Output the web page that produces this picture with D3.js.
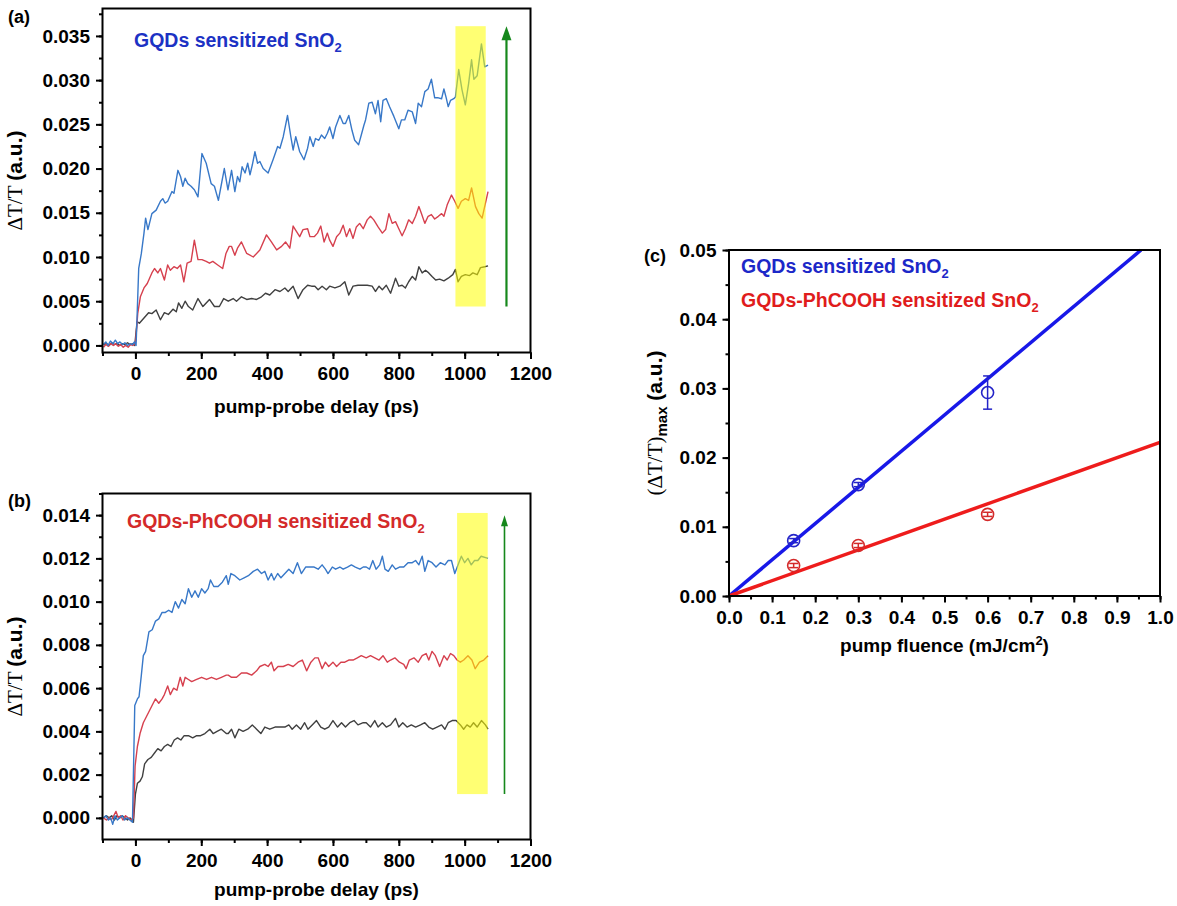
<!DOCTYPE html>
<html lang="en">
<head>
<meta charset="UTF-8">
<title>Transient transmission of SnO2 films</title>
<script src="https://d3js.org/d3.v7.min.js"></script>
<style>
  body, html { margin: 0; padding: 0; background: #fff; }
  svg { display: block; }
  .tick text { font-family: "Liberation Sans", Arial, sans-serif; font-weight: bold; fill: #000; }
  .tick line { stroke: #000; stroke-width: 2; }
  .bold { font-family: "Liberation Sans", Arial, sans-serif; font-weight: bold; }
  .serif { font-family: "Liberation Serif", "Times New Roman", serif; font-weight: normal; }
</style>
</head>
<body>
<svg id="chart"></svg>
<script>
// ---- data: [delay (ps), dT/T] ----
const aBlue = [[-97,0.0001],[-90,0.0004],[-83,0.0000],[-76,0.0005],[-68,0.0002],[-61,0.0006],[-54,0.0002],[-47,0.0004],[-39,0.0001],[-32,0.0003],[-24,0.0000],[-16,0.0002],[-9,0.0001],[-3,0.0004],[2,0.0000],[10,0.0087],[18,0.0104],[26,0.0127],[31,0.0144],[38,0.0131],[50,0.0149],[63,0.0153],[76,0.0163],[83,0.0166],[90,0.0161],[98,0.0163],[111,0.0174],[117,0.0172],[129,0.0198],[137,0.0191],[144,0.0180],[151,0.0189],[159,0.0183],[169,0.0180],[179,0.0176],[190,0.0168],[202,0.0217],[215,0.0206],[230,0.0183],[240,0.0180],[252,0.0164],[260,0.0180],[270,0.0200],[281,0.0176],[292,0.0198],[302,0.0174],[310,0.0191],[317,0.0185],[324,0.0202],[333,0.0195],[341,0.0206],[348,0.0193],[355,0.0204],[363,0.0219],[371,0.0206],[378,0.0208],[388,0.0200],[403,0.0195],[418,0.0210],[432,0.0225],[439,0.0223],[449,0.0236],[462,0.0260],[472,0.0236],[479,0.0221],[487,0.0236],[499,0.0219],[512,0.0210],[523,0.0223],[530,0.0236],[540,0.0225],[547,0.0234],[557,0.0232],[565,0.0238],[575,0.0234],[583,0.0240],[590,0.0247],[600,0.0234],[608,0.0247],[621,0.0260],[631,0.0251],[638,0.0251],[648,0.0260],[658,0.0243],[666,0.0232],[678,0.0227],[686,0.0238],[694,0.0249],[699,0.0255],[709,0.0274],[719,0.0275],[729,0.0262],[737,0.0277],[745,0.0253],[752,0.0277],[762,0.0279],[772,0.0270],[785,0.0259],[800,0.0245],[808,0.0255],[818,0.0255],[828,0.0266],[841,0.0264],[851,0.0251],[859,0.0274],[869,0.0270],[879,0.0287],[889,0.0290],[899,0.0301],[909,0.0280],[920,0.0280],[930,0.0279],[937,0.0290],[944,0.0280],[950,0.0270],[957,0.0277],[967,0.0279],[972,0.0281],[982,0.0312],[992,0.0289],[1002,0.0272],[1012,0.0296],[1021,0.0323],[1028,0.0301],[1038,0.0305],[1051,0.0341],[1061,0.0315],[1071,0.0317]];
const aRed = [[-97,-0.0002],[-90,0.0001],[-82,-0.0001],[-75,0.0002],[-67,0.0000],[-60,0.0002],[-52,-0.0001],[-45,0.0001],[-37,-0.0002],[-30,0.0000],[-22,-0.0002],[-15,0.0001],[-8,0.0000],[-2,0.0002],[1,0.0006],[7,0.0036],[15,0.0055],[26,0.0065],[36,0.0070],[43,0.0076],[50,0.0082],[58,0.0087],[68,0.0082],[76,0.0087],[88,0.0074],[98,0.0091],[106,0.0085],[117,0.0089],[127,0.0087],[137,0.0091],[147,0.0072],[157,0.0093],[169,0.0095],[179,0.0119],[190,0.0097],[202,0.0097],[215,0.0095],[225,0.0093],[235,0.0095],[250,0.0091],[265,0.0087],[275,0.0104],[285,0.0112],[292,0.0112],[302,0.0102],[310,0.0110],[322,0.0117],[338,0.0104],[358,0.0100],[378,0.0108],[398,0.0125],[413,0.0117],[429,0.0108],[444,0.0112],[456,0.0117],[469,0.0110],[479,0.0135],[489,0.0129],[499,0.0123],[509,0.0131],[523,0.0132],[530,0.0123],[543,0.0123],[553,0.0127],[563,0.0135],[573,0.0117],[583,0.0127],[590,0.0119],[600,0.0112],[611,0.0123],[621,0.0127],[631,0.0136],[641,0.0123],[651,0.0132],[661,0.0121],[671,0.0134],[681,0.0138],[692,0.0132],[704,0.0142],[714,0.0146],[724,0.0142],[737,0.0134],[750,0.0127],[760,0.0131],[770,0.0149],[780,0.0138],[790,0.0140],[800,0.0132],[810,0.0124],[820,0.0132],[830,0.0142],[841,0.0138],[851,0.0146],[861,0.0157],[869,0.0149],[879,0.0138],[889,0.0146],[899,0.0148],[909,0.0143],[920,0.0146],[930,0.0149],[937,0.0146],[947,0.0159],[960,0.0170],[970,0.0163],[980,0.0155],[990,0.0163],[1002,0.0166],[1012,0.0164],[1021,0.0178],[1033,0.0157],[1043,0.0149],[1053,0.0144],[1071,0.0174]];
const aBlack = [[-97,0.0001],[-88,0.0002],[-80,0.0000],[-72,0.0003],[-64,0.0001],[-56,0.0002],[-48,0.0000],[-40,0.0002],[-32,0.0001],[-24,0.0003],[-16,0.0001],[-8,0.0002],[-2,0.0000],[5,0.0027],[12,0.0025],[26,0.0031],[40,0.0037],[50,0.0036],[63,0.0040],[76,0.0029],[88,0.0037],[100,0.0035],[114,0.0041],[124,0.0038],[131,0.0048],[141,0.0042],[151,0.0050],[161,0.0044],[174,0.0040],[190,0.0053],[205,0.0044],[225,0.0052],[240,0.0044],[255,0.0044],[268,0.0053],[282,0.0050],[297,0.0053],[307,0.0050],[322,0.0055],[338,0.0052],[353,0.0053],[368,0.0052],[383,0.0055],[395,0.0059],[408,0.0057],[424,0.0063],[439,0.0061],[454,0.0065],[464,0.0061],[479,0.0067],[494,0.0053],[509,0.0063],[523,0.0068],[535,0.0067],[545,0.0067],[555,0.0063],[567,0.0067],[580,0.0063],[590,0.0067],[606,0.0065],[621,0.0067],[636,0.0072],[648,0.0057],[661,0.0067],[676,0.0068],[692,0.0068],[704,0.0068],[719,0.0067],[729,0.0061],[740,0.0067],[750,0.0063],[762,0.0068],[775,0.0059],[785,0.0070],[790,0.0076],[800,0.0067],[810,0.0068],[820,0.0065],[830,0.0072],[841,0.0078],[851,0.0074],[861,0.0089],[871,0.0082],[881,0.0085],[891,0.0082],[901,0.0078],[912,0.0074],[924,0.0075],[937,0.0073],[950,0.0076],[964,0.0080],[972,0.0086],[980,0.0072],[990,0.0078],[1002,0.0080],[1015,0.0079],[1025,0.0082],[1038,0.0080],[1048,0.0088],[1061,0.0089],[1071,0.0090]];

const bBlue = [[-97,0.0000],[-90,0.0001],[-82,-0.0001],[-75,0.0000],[-69,-0.0003],[-62,0.0001],[-55,-0.0001],[-48,0.0000],[-40,0.0001],[-33,-0.0001],[-25,0.0000],[-17,-0.0001],[-9,-0.0002],[-2,0.0052],[6,0.0055],[11,0.0056],[18,0.0066],[24,0.0075],[31,0.0077],[41,0.0086],[51,0.0087],[61,0.0091],[71,0.0092],[81,0.0095],[91,0.0095],[101,0.0096],[111,0.0095],[121,0.0100],[131,0.0097],[141,0.0101],[151,0.0099],[161,0.0106],[171,0.0102],[181,0.0105],[191,0.0102],[201,0.0106],[211,0.0104],[221,0.0106],[228,0.0110],[238,0.0107],[251,0.0107],[264,0.0109],[276,0.0112],[282,0.0108],[290,0.0113],[302,0.0112],[317,0.0110],[330,0.0111],[343,0.0112],[358,0.0114],[371,0.0115],[383,0.0113],[393,0.0114],[403,0.0110],[413,0.0113],[421,0.0110],[432,0.0113],[442,0.0111],[454,0.0113],[466,0.0115],[479,0.0113],[492,0.0118],[504,0.0113],[517,0.0116],[530,0.0116],[543,0.0116],[555,0.0115],[567,0.0117],[577,0.0115],[585,0.0113],[598,0.0116],[608,0.0115],[621,0.0116],[631,0.0115],[644,0.0116],[656,0.0117],[668,0.0116],[682,0.0115],[692,0.0116],[701,0.0116],[711,0.0115],[721,0.0119],[731,0.0115],[742,0.0117],[750,0.0121],[758,0.0115],[768,0.0114],[780,0.0117],[790,0.0115],[802,0.0116],[815,0.0116],[828,0.0118],[841,0.0118],[851,0.0119],[861,0.0117],[871,0.0121],[879,0.0114],[889,0.0119],[901,0.0118],[913,0.0116],[926,0.0118],[940,0.0117],[950,0.0119],[960,0.0119],[970,0.0113],[980,0.0117],[990,0.0121],[1000,0.0118],[1010,0.0120],[1020,0.0117],[1030,0.0119],[1040,0.0119],[1050,0.0121],[1071,0.0120]];
const bRed = [[-97,0.0000],[-88,-0.0001],[-80,0.0000],[-73,-0.0001],[-66,0.0001],[-59,0.0003],[-52,0.0000],[-45,0.0001],[-38,-0.0001],[-30,0.0001],[-22,0.0000],[-14,-0.0001],[-6,0.0000],[-1,0.0024],[6,0.0033],[14,0.0039],[24,0.0044],[34,0.0047],[44,0.0050],[54,0.0053],[61,0.0055],[71,0.0053],[81,0.0055],[88,0.0057],[98,0.0061],[106,0.0057],[116,0.0060],[126,0.0059],[136,0.0065],[144,0.0061],[151,0.0065],[161,0.0064],[171,0.0063],[186,0.0064],[201,0.0065],[216,0.0064],[231,0.0065],[246,0.0064],[261,0.0065],[276,0.0066],[282,0.0066],[292,0.0065],[307,0.0065],[322,0.0067],[338,0.0067],[353,0.0066],[368,0.0068],[378,0.0070],[393,0.0071],[403,0.0070],[413,0.0072],[421,0.0068],[433,0.0070],[449,0.0070],[464,0.0071],[479,0.0070],[494,0.0072],[507,0.0073],[520,0.0068],[533,0.0072],[545,0.0074],[555,0.0074],[567,0.0069],[577,0.0072],[587,0.0070],[600,0.0072],[611,0.0070],[624,0.0072],[636,0.0072],[648,0.0073],[661,0.0073],[674,0.0074],[686,0.0075],[701,0.0074],[714,0.0075],[727,0.0074],[740,0.0073],[752,0.0075],[765,0.0072],[775,0.0073],[788,0.0074],[802,0.0072],[815,0.0071],[822,0.0069],[832,0.0073],[846,0.0074],[859,0.0072],[871,0.0075],[883,0.0076],[891,0.0073],[901,0.0077],[911,0.0075],[924,0.0070],[937,0.0075],[947,0.0073],[957,0.0076],[967,0.0075],[977,0.0073],[987,0.0072],[997,0.0073],[1010,0.0075],[1022,0.0073],[1032,0.0069],[1045,0.0072],[1058,0.0073],[1071,0.0075]];
const bBlack = [[-97,0.0000],[-88,0.0001],[-80,0.0000],[-72,0.0001],[-64,-0.0001],[-56,0.0001],[-48,0.0000],[-40,0.0001],[-32,0.0000],[-24,-0.0001],[-16,0.0000],[-6,-0.0002],[0,0.0011],[6,0.0016],[14,0.0017],[21,0.0019],[28,0.0025],[38,0.0027],[48,0.0028],[58,0.0030],[68,0.0032],[78,0.0031],[88,0.0033],[98,0.0034],[108,0.0033],[118,0.0036],[128,0.0037],[138,0.0036],[148,0.0038],[161,0.0038],[174,0.0037],[186,0.0038],[198,0.0038],[211,0.0039],[226,0.0041],[236,0.0039],[248,0.0040],[261,0.0041],[276,0.0039],[282,0.0039],[292,0.0041],[302,0.0037],[314,0.0041],[327,0.0040],[341,0.0041],[355,0.0043],[368,0.0041],[381,0.0039],[393,0.0042],[408,0.0041],[424,0.0042],[439,0.0042],[454,0.0042],[466,0.0043],[476,0.0041],[489,0.0043],[502,0.0041],[514,0.0044],[524,0.0041],[537,0.0043],[550,0.0045],[563,0.0042],[575,0.0041],[587,0.0042],[600,0.0045],[614,0.0042],[626,0.0044],[638,0.0042],[651,0.0044],[664,0.0045],[676,0.0043],[692,0.0044],[701,0.0044],[714,0.0042],[727,0.0045],[737,0.0042],[750,0.0044],[762,0.0042],[775,0.0043],[790,0.0046],[800,0.0042],[812,0.0044],[825,0.0042],[838,0.0043],[851,0.0042],[866,0.0043],[879,0.0044],[891,0.0042],[903,0.0041],[916,0.0042],[930,0.0043],[940,0.0041],[950,0.0044],[962,0.0045],[974,0.0045],[987,0.0043],[997,0.0041],[1007,0.0043],[1017,0.0042],[1027,0.0044],[1038,0.0042],[1051,0.0045],[1063,0.0043],[1071,0.0041]];

// highlighted window and arrow (delay, dT/T)
const aBand = [972, 1064], aBandY = [0.0044, 0.0361];
const bBand = [977, 1070], bBandY = [0.0011, 0.0141];
const aArrow = [1127, 0.0044, 0.0361];
const bArrow = [1121, 0.0011, 0.0140];

// panel (c): max dT/T vs pump fluence
const fluence = [0.15, 0.3, 0.6];
const cBlue = [0.0080, 0.0161, 0.0294];
const cBlueErr = [0.0003, 0.0003, 0.0024];
const cRed = [0.0044, 0.0073, 0.0118];
const cRedErr = [0.0003, 0.0003, 0.0003];
const cBlueSlope = 0.0523, cRedSlope = 0.0222;

const width = 1177, height = 906;
const svg = d3.select("#chart").attr("width", width).attr("height", height);

const colBlue = "#3878c8", colRed = "#d6404e", colBlack = "#404040";
const green = "#16881c";

function axes(g, x, y, o) {
  const b = o.bottom, l = o.left;
  g.append("g").attr("transform", `translate(0,${b})`)
    .call(d3.axisBottom(x).tickValues(o.xMinor).tickSize(3.5).tickFormat(""))
    .call(s => s.select(".domain").remove());
  g.append("g").attr("transform", `translate(0,${b})`)
    .call(d3.axisBottom(x).tickValues(o.xMajor).tickSize(6.5).tickPadding(o.xPad).tickFormat(o.xFmt))
    .call(s => s.select(".domain").remove())
    .selectAll("text").style("font-size", o.fs + "px");
  g.append("g").attr("transform", `translate(${l},0)`)
    .call(d3.axisLeft(y).tickValues(o.yMinor).tickSize(3.5).tickFormat(""))
    .call(s => s.select(".domain").remove());
  g.append("g").attr("transform", `translate(${l},0)`)
    .call(d3.axisLeft(y).tickValues(o.yMajor).tickSize(6.5).tickPadding(o.yPad).tickFormat(o.yFmt))
    .call(s => s.select(".domain").remove())
    .selectAll("text").style("font-size", o.fs + "px");
  g.append("rect")
    .attr("x", o.left).attr("y", o.top)
    .attr("width", o.right - o.left).attr("height", o.bottom - o.top)
    .attr("fill", "none").attr("stroke", "#000").attr("stroke-width", 2);
}

function rotLabel(cx, cy) {
  const t = svg.append("text")
    .attr("transform", `translate(${cx},${cy}) rotate(-90)`)
    .attr("text-anchor", "middle").style("font-size", "21px");
  t.append("tspan").attr("class", "serif").text("\u0394T/T ");
  t.append("tspan").attr("class", "bold").text("(a.u.)");
}

function kineticPanel(o) {
  const g = svg.append("g");
  const x = d3.scaleLinear().domain([-100, 1200]).range([o.left, o.right]);
  const y = d3.scaleLinear().domain(o.yDomain).range([o.bottom, o.top]);
  const line = d3.line().x(d => x(d[0])).y(d => y(d[1]));

  [[o.black, colBlack], [o.red, colRed], [o.blue, colBlue]].forEach(([d, c]) => {
    g.append("path").datum(d).attr("d", line)
      .attr("fill", "none").attr("stroke", c).attr("stroke-width", 1.4)
      .attr("stroke-linejoin", "round");
  });

  // yellow highlight window over the last delays
  g.append("rect")
    .attr("x", x(o.band[0])).attr("width", x(o.band[1]) - x(o.band[0]))
    .attr("y", y(o.bandY[1])).attr("height", y(o.bandY[0]) - y(o.bandY[1]))
    .attr("fill", "#ffff00").attr("opacity", 0.55);

  // green arrow
  const ax = x(o.arrow[0]), aTop = y(o.arrow[2]);
  g.append("line")
    .attr("x1", ax).attr("x2", ax)
    .attr("y1", y(o.arrow[1])).attr("y2", aTop + o.headH - 1)
    .attr("stroke", green).attr("stroke-width", o.arrowW);
  g.append("path")
    .attr("d", `M${ax},${aTop} L${ax - o.headW / 2},${aTop + o.headH} L${ax + o.headW / 2},${aTop + o.headH} Z`)
    .attr("fill", green);

  axes(g, x, y, {
    left: o.left, right: o.right, top: o.top, bottom: o.bottom,
    xMajor: d3.range(0, 1201, 200), xMinor: d3.range(-100, 1201, 100), xFmt: d3.format("d"),
    yMajor: o.yMajor, yMinor: o.yMinor, yFmt: d3.format(".3f"),
    fs: 19, xPad: 8, yPad: 6
  });

  const tl = svg.append("text").attr("class", "bold").attr("x", o.labelX).attr("y", o.labelY)
    .attr("fill", o.labelColor).style("font-size", "19.5px").text(o.label + " SnO");
  tl.append("tspan").attr("dy", 5).style("font-size", "13px").text("2");

  svg.append("text").attr("class", "bold").attr("x", (o.left + o.right) / 2).attr("y", o.titleY)
    .attr("text-anchor", "middle").style("font-size", "19px").text("pump-probe delay (ps)");
  svg.append("text").attr("class", "bold").attr("x", 8).attr("y", o.letterY)
    .style("font-size", "18px").text(o.letter);
  rotLabel(22, (o.top + o.bottom) / 2);
}

kineticPanel({
  left: 102.5, right: 530.5, top: 8.5, bottom: 352.5,
  yDomain: [-0.0008, 0.0381],
  yMajor: d3.range(0, 0.0351, 0.005), yMinor: d3.range(0, 0.0376, 0.0025),
  blue: aBlue, red: aRed, black: aBlack,
  band: aBand, bandY: aBandY, arrow: aArrow, arrowW: 2.2, headW: 10, headH: 14,
  label: "GQDs sensitized", labelColor: "#1c32c4", labelX: 134, labelY: 47,
  titleY: 413, letter: "(a)", letterY: 23
});

kineticPanel({
  left: 102.5, right: 530.5, top: 493.5, bottom: 839.5,
  yDomain: [-0.001, 0.015],
  yMajor: d3.range(0, 0.0141, 0.002), yMinor: d3.range(0, 0.0151, 0.001),
  blue: bBlue, red: bRed, black: bBlack,
  band: bBand, bandY: bBandY, arrow: bArrow, arrowW: 1.6, headW: 7, headH: 11,
  label: "GQDs-PhCOOH sensitized", labelColor: "#d42a2a", labelX: 127, labelY: 528,
  titleY: 896, letter: "(b)", letterY: 507
});

// ---- panel (c) ----
(function () {
  const o = { left: 729, right: 1160, top: 250, bottom: 596 };
  const g = svg.append("g");
  const x = d3.scaleLinear().domain([0, 1]).range([o.left, o.right]);
  const y = d3.scaleLinear().domain([0, 0.05]).range([o.bottom, o.top]);

  const fits = [[cBlueSlope, "#1818e8"], [cRedSlope, "#ee1c1c"]];
  fits.forEach(([k, c]) => {
    const xEnd = Math.min(1, 0.05 / k);
    g.append("line")
      .attr("x1", x(0)).attr("y1", y(0)).attr("x2", x(xEnd)).attr("y2", y(k * xEnd))
      .attr("stroke", c).attr("stroke-width", 3.5);
  });

  const sets = [[cBlue, cBlueErr, "#2424c8"], [cRed, cRedErr, "#d42a2a"]];
  sets.forEach(([vals, errs, c]) => {
    const pts = g.append("g").selectAll("g").data(fluence).join("g");
    pts.append("line")
      .attr("x1", d => x(d)).attr("x2", d => x(d))
      .attr("y1", (d, i) => y(vals[i] - errs[i])).attr("y2", (d, i) => y(vals[i] + errs[i]))
      .attr("stroke", c).attr("stroke-width", 1.5);
    [-1, 1].forEach(sgn => {
      pts.append("line")
        .attr("x1", d => x(d) - 4.5).attr("x2", d => x(d) + 4.5)
        .attr("y1", (d, i) => y(vals[i] + sgn * errs[i])).attr("y2", (d, i) => y(vals[i] + sgn * errs[i]))
        .attr("stroke", c).attr("stroke-width", 1.5);
    });
    pts.append("circle")
      .attr("cx", d => x(d)).attr("cy", (d, i) => y(vals[i])).attr("r", 6)
      .attr("fill", "none").attr("stroke", c).attr("stroke-width", 1.6);
  });

  axes(g, x, y, {
    left: o.left, right: o.right, top: o.top, bottom: o.bottom,
    xMajor: d3.range(0, 1.01, 0.1), xMinor: d3.range(0, 1.01, 0.05), xFmt: d3.format(".1f"),
    yMajor: d3.range(0, 0.051, 0.01), yMinor: d3.range(0, 0.051, 0.005), yFmt: d3.format(".2f"),
    fs: 19, xPad: 8, yPad: 6
  });

  const leg = [["GQDs sensitized", "#1c28c8", 273], ["GQDs-PhCOOH sensitized", "#e01c1c", 307]];
  leg.forEach(([s, c, yy]) => {
    const t = svg.append("text").attr("class", "bold").attr("x", 741).attr("y", yy)
      .attr("fill", c).style("font-size", "19.5px").text(s + " SnO");
    t.append("tspan").attr("dy", 5).style("font-size", "13px").text("2");
  });

  const xt = svg.append("text").attr("class", "bold").attr("x", (o.left + o.right) / 2).attr("y", 652)
    .attr("text-anchor", "middle").style("font-size", "19px").text("pump fluence (mJ/cm");
  xt.append("tspan").attr("dy", -7).style("font-size", "13px").text("2");
  xt.append("tspan").attr("dy", 7).text(")");

  const yt = svg.append("text")
    .attr("transform", `translate(662,${(o.top + o.bottom) / 2}) rotate(-90)`)
    .attr("text-anchor", "middle").style("font-size", "21px");
  yt.append("tspan").attr("class", "serif").text("(\u0394T/T)");
  yt.append("tspan").attr("class", "bold").attr("dy", 5).style("font-size", "15px").text("max");
  yt.append("tspan").attr("class", "bold").attr("dy", -5).text(" (a.u.)");

  svg.append("text").attr("class", "bold").attr("x", 644).attr("y", 262)
    .style("font-size", "18px").text("(c)");
})();
</script>
</body>
</html>
